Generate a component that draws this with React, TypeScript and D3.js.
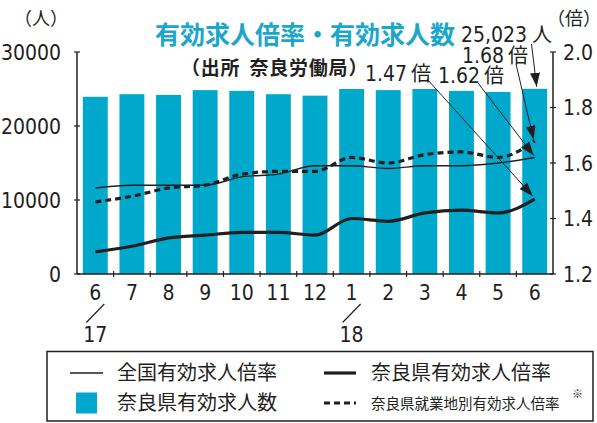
import React from "react";
import * as d3 from "d3";

const months = ["6", "7", "8", "9", "10", "11", "12", "1", "2", "3", "4", "5", "6"];
const yearLabels = [{ idx: 0, label: "17" }, { idx: 7, label: "18" }];
const naraJobs = [23950, 24300, 24200, 24850, 24750, 24300, 24100, 25000, 24850, 25000, 24750, 24600, 25023];
const nationalRatio = [1.51, 1.52, 1.52, 1.52, 1.55, 1.56, 1.59, 1.59, 1.58, 1.59, 1.59, 1.60, 1.62];
const naraRatio = [1.28, 1.30, 1.33, 1.34, 1.35, 1.35, 1.34, 1.40, 1.39, 1.42, 1.43, 1.42, 1.47];
const naraWorkRatio = [1.46, 1.48, 1.51, 1.52, 1.56, 1.57, 1.57, 1.62, 1.60, 1.63, 1.64, 1.62, 1.68];
const leftTicks = [0, 10000, 20000, 30000];
const rightTicks = [1.2, 1.4, 1.6, 1.8, 2.0];

const BAR = "#00A9CB";
const NUM = "'Liberation Sans Narrow', 'DejaVu Sans Condensed', 'Liberation Sans', sans-serif";
const CJK = "'Noto Sans CJK JP', sans-serif";
const INK = "#231f20";

export default function App() {
  const L = 77, R = 553, T = 52, B = 274;
  const idx = months.map((_, i) => i);
  const x = d3.scaleBand<number>().domain(idx).range([L, R]).paddingInner(0.32).paddingOuter(0.16);
  const bw = x.bandwidth();
  const cx = (i: number) => (x(i) as number) + bw / 2;
  const yL = d3.scaleLinear().domain([0, 30000]).range([B, T]);
  const yR = d3.scaleLinear().domain([1.2, 2.0]).range([B, T]);
  const line = (arr: number[]) =>
    d3.line<number>().x((_, i) => cx(i)).y((v) => yR(v)).curve(d3.curveMonotoneX)(arr) as string;
  const step = x.step();
  const last = months.length - 1;

  const arrows = [
    { x1: 531.5, y1: 44, x2: cx(last) + 2, y2: yL(naraJobs[last]) - 2 },
    { x1: 516, y1: 64, x2: cx(last) - 1, y2: yR(naraWorkRatio[last]) - 1 },
    { x1: 478, y1: 83, x2: cx(last) - 1, y2: yR(nationalRatio[last]) - 2 },
    { x1: 427, y1: 79, x2: cx(last) - 2, y2: yR(naraRatio[last]) - 3 },
  ];

  return (
    <svg width={597} height={423} style={{ position: "absolute", left: 0, top: 0, background: "#fff" }}>
      <defs>
        <marker id="ah" viewBox="0 0 14 10" refX="14" refY="5" markerWidth="14" markerHeight="10"
          markerUnits="userSpaceOnUse" orient="auto">
          <path d="M0,0 L14,5 L0,10 Z" fill={INK} />
        </marker>
      </defs>
      {/* bars */}
      {naraJobs.map((v, i) => (
        <rect key={i} x={x(i)} y={yL(v)} width={bw} height={B - yL(v)} fill={BAR} />
      ))}
      {/* axes */}
      <line x1={L} y1={T} x2={L} y2={B} stroke={INK} strokeWidth={1.5} />
      <line x1={R} y1={T} x2={R} y2={B} stroke={INK} strokeWidth={1.5} />
      <line x1={L} y1={B} x2={R} y2={B} stroke={INK} strokeWidth={1.5} />
      {leftTicks.map((t) => (
        <g key={"l" + t}>
          <line x1={L - 3} x2={L + 3} y1={yL(t)} y2={yL(t)} stroke={INK} strokeWidth={1.2} />
          <text x={61} y={yL(t) + 7.5} textAnchor="end" fontFamily={NUM} fontSize={21} fill={INK}>{t}</text>
        </g>
      ))}
      {rightTicks.map((t) => (
        <g key={"r" + t}>
          <line x1={R - 3} x2={R + 3} y1={yR(t)} y2={yR(t)} stroke={INK} strokeWidth={1.2} />
          <text x={563} y={yR(t) + 7.5} fontFamily={NUM} fontSize={21} fill={INK}>{t.toFixed(1)}</text>
        </g>
      ))}
      {d3.range(1, months.length).map((k) => (
        <line key={"t" + k} x1={L + k * step} x2={L + k * step} y1={B - 3} y2={B + 3} stroke={INK} strokeWidth={1.2} />
      ))}
      {months.map((m, i) => (
        <text key={"m" + i} x={cx(i)} y={300} textAnchor="middle" fontFamily={NUM} fontSize={21} fill={INK}>{m}</text>
      ))}
      {yearLabels.map((yl) => (
        <g key={"y" + yl.label}>
          <line x1={cx(yl.idx) - 9} y1={322.5} x2={cx(yl.idx) + 9} y2={304} stroke={INK} strokeWidth={1.2} />
          <text x={cx(yl.idx)} y={342} textAnchor="middle" fontFamily={NUM} fontSize={21} fill={INK}>{yl.label}</text>
        </g>
      ))}
      {/* lines */}
      <path d={line(nationalRatio)} fill="none" stroke={INK} strokeWidth={1.4} />
      <path d={line(naraRatio)} fill="none" stroke={INK} strokeWidth={3.2} />
      <path d={line(naraWorkRatio)} fill="none" stroke={INK} strokeWidth={3.2} strokeDasharray="6,4" />
      {/* unit labels */}
      <text x={41} y={25} textAnchor="middle" fontFamily={CJK} fontSize={18} fill={INK}>（人）</text>
      <text x={574} y={25} textAnchor="middle" fontFamily={CJK} fontSize={18} fill={INK}>（倍）</text>
      {/* title */}
      <text x={305} y={44} textAnchor="middle" fontFamily={CJK} fontSize={25} fontWeight={700} fill="#1AA7CA">有効求人倍率・有効求人数</text>
      <text x={181} y={75} fontFamily={CJK} fontSize={19} fontWeight={700} letterSpacing={0.8} fill={INK}>
        <tspan>（出所</tspan>
        <tspan dx={9}>奈良労働局）</tspan>
      </text>
      {/* annotations */}
      <text x={461} y={42} fill={INK}>
        <tspan fontFamily={NUM} fontSize={21}>25,023</tspan>
        <tspan fontFamily={CJK} fontSize={20} dx={5}>人</tspan>
      </text>
      <text x={462} y={63} fill={INK}>
        <tspan fontFamily={NUM} fontSize={21}>1.68</tspan>
        <tspan fontFamily={CJK} fontSize={20} dx={4}>倍</tspan>
      </text>
      <text x={365} y={81} fill={INK}>
        <tspan fontFamily={NUM} fontSize={21}>1.47</tspan>
        <tspan fontFamily={CJK} fontSize={20} dx={4}>倍</tspan>
      </text>
      <text x={438} y={83} fill={INK}>
        <tspan fontFamily={NUM} fontSize={21}>1.62</tspan>
        <tspan fontFamily={CJK} fontSize={20} dx={4}>倍</tspan>
      </text>
      {arrows.map((a, i) => (
        <line key={"a" + i} x1={a.x1} y1={a.y1} x2={a.x2} y2={a.y2} stroke={INK} strokeWidth={1} markerEnd="url(#ah)" />
      ))}
      {/* legend */}
      <rect x={47} y={351.5} width={546} height={69.5} fill="#fff" stroke={INK} strokeWidth={1.5} />
      <line x1={70} x2={103} y1={373} y2={373} stroke={INK} strokeWidth={1.4} />
      <text x={117} y={380} fontFamily={CJK} fontSize={20} fill={INK}>全国有効求人倍率</text>
      <rect x={76} y={392.5} width={21} height={21} fill={BAR} />
      <text x={117} y={410} fontFamily={CJK} fontSize={20} fill={INK}>奈良県有効求人数</text>
      <line x1={324} x2={356} y1={373} y2={373} stroke={INK} strokeWidth={3.2} />
      <text x={371} y={380} fontFamily={CJK} fontSize={20} fill={INK}>奈良県有効求人倍率</text>
      <line x1={324} x2={356} y1={403} y2={403} stroke={INK} strokeWidth={3.2} strokeDasharray="6,4" />
      <text x={371} y={409} fontFamily={CJK} fontSize={14.5} fill={INK}>奈良県就業地別有効求人倍率</text>
      <text x={572} y={398} fontFamily={CJK} fontSize={11} fill={INK}>※</text>
    </svg>
  );
}
